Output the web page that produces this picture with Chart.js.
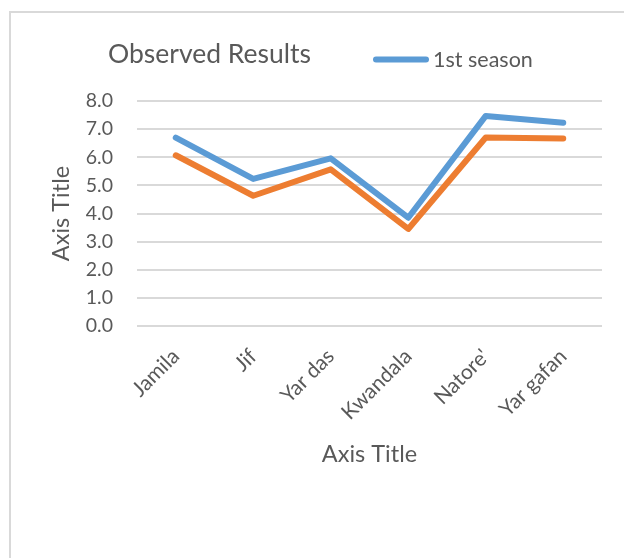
<!DOCTYPE html>
<html>
<head>
<meta charset="utf-8">
<script src="https://cdn.jsdelivr.net/npm/chart.js@4.4.1/dist/chart.umd.min.js"></script>
<style>
  html, body { margin: 0; padding: 0; background: #fff; overflow: hidden; }
  #wrap { position: relative; width: 624px; height: 558px; overflow: hidden; }
  #frame { position: absolute; left: 9px; top: 11px; width: 700px; height: 700px;
           border: 2px solid #d9d9d9; box-sizing: border-box; }
  #chart { position: absolute; left: 0; top: 0; }
</style>
</head>
<body>
<div id="wrap">
  <div id="frame"></div>
  <canvas id="chart" width="624" height="558"></canvas>
</div>
<script>
var lugares = ['Jamila', 'Jif', 'Yar das', 'Kwandala', 'Natore\'', 'Yar gafan'];
var temporada1 = [6.70, 5.23, 5.96, 3.85, 7.47, 7.23];
var temporada2 = [6.07, 4.63, 5.57, 3.45, 6.70, 6.67];
var nombresSeries = ['1st season', '2nd season'];
var tituloGrafica = 'Observed Results';
var tituloEje = 'Axis Title';

var FUENTE = 'Lato, "Open Sans", sans-serif';
var GRIS = '#595959';
var AZUL = '#5b9bd5';
var NARANJA = '#ed7d31';

// titulo y leyenda en la misma fila, como en Excel
var encabezado = {
    id: 'encabezado',
    afterDraw: function (chart) {
        var ctx = chart.ctx;
        var ds = chart.data.datasets[0];
        ctx.save();
        ctx.fillStyle = GRIS;
        ctx.textBaseline = 'alphabetic';
        ctx.font = '26.5px ' + FUENTE;
        ctx.fillText(tituloGrafica, 108, 63);

        ctx.strokeStyle = ds.borderColor;
        ctx.lineWidth = 6;
        ctx.lineCap = 'round';
        ctx.beginPath();
        ctx.moveTo(376, 59.5);
        ctx.lineTo(426, 59.5);
        ctx.stroke();

        ctx.font = '21.5px ' + FUENTE;
        ctx.fillText(ds.label, 433, 66.5);
        ctx.restore();
    }
};

var ctx = document.getElementById('chart').getContext('2d');
var grafica = new Chart(ctx, {
    type: 'line',
    data: {
        labels: lugares,
        datasets: [{
            label: nombresSeries[0],
            data: temporada1,
            borderColor: AZUL,
            backgroundColor: AZUL,
            borderWidth: 6,
            pointRadius: 0,
            borderCapStyle: 'round',
            borderJoinStyle: 'round',
            tension: 0
        }, {
            label: nombresSeries[1],
            data: temporada2,
            borderColor: NARANJA,
            backgroundColor: NARANJA,
            borderWidth: 6,
            pointRadius: 0,
            borderCapStyle: 'round',
            borderJoinStyle: 'round',
            tension: 0
        }]
    },
    options: {
        responsive: false,
        animation: false,
        layout: { padding: { top: 101, right: 22, left: 0, bottom: 0 } },
        plugins: {
            legend: { display: false },
            title: { display: false },
            tooltip: { enabled: false }
        },
        scales: {
            x: {
                offset: true,
                grid: { display: false },
                border: { display: false },
                ticks: {
                    color: GRIS,
                    font: { family: FUENTE, size: 21 },
                    maxRotation: 45,
                    minRotation: 45,
                    autoSkip: false,
                    padding: 10
                },
                title: {
                    display: true,
                    text: tituloEje,
                    color: GRIS,
                    font: { family: FUENTE, size: 23.5 },
                    padding: { top: 0, bottom: 89 }
                },
                afterFit: function (s) { s.height = 232; }
            },
            y: {
                min: 0,
                max: 8,
                grid: { color: '#d9d9d9', lineWidth: 2, drawTicks: false },
                border: { display: false },
                ticks: {
                    stepSize: 1,
                    color: GRIS,
                    font: { family: FUENTE, size: 19.5 },
                    padding: 24,
                    callback: function (v) { return v.toFixed(1); }
                },
                title: {
                    display: true,
                    text: tituloEje,
                    color: GRIS,
                    font: { family: FUENTE, size: 23.5 },
                    padding: { top: 47, bottom: 0 }
                },
                afterFit: function (s) { s.width = 137; }
            }
        }
    },
    plugins: [encabezado]
});
</script>
</body>
</html>
